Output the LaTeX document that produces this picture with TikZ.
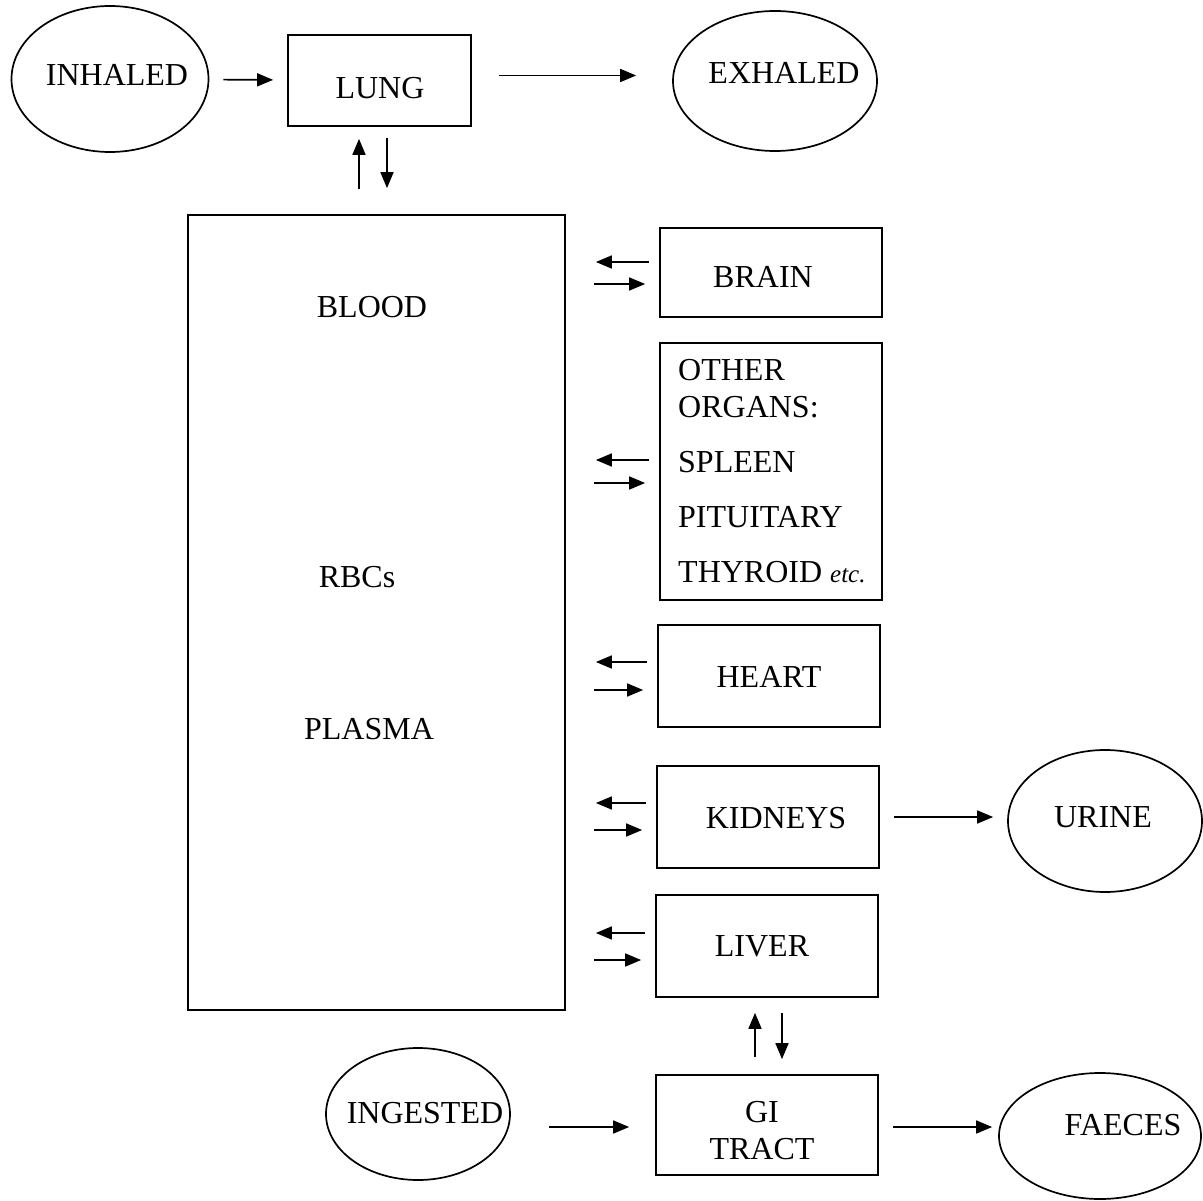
\documentclass[tikz,border=0pt]{standalone}
\usepackage{fontspec}
\setmainfont{Liberation Serif}
\usetikzlibrary{shapes.geometric,arrows.meta}
\begin{document}
\begin{tikzpicture}[x=1pt,y=-1pt,
  shp/.style={draw, line width=1.7pt, inner sep=0pt},
  boxn/.style={shp, rectangle},
  ell/.style={shp, ellipse},
  lbl/.style={inner sep=0pt, font=\fontsize{32}{37}\selectfont, align=center},
  arr/.style={line width=1.7pt, -{Triangle[length=16pt,width=13pt]}}]
\useasboundingbox (0,0) rectangle (1203,1201);
% shapes
\node[ell, minimum width=197pt, minimum height=146pt] (inh) at (110,79) {};
\node[ell, minimum width=204pt, minimum height=140pt] (exh) at (775,81) {};
\node[ell, minimum width=194pt, minimum height=142pt] (uri) at (1105,821) {};
\node[ell, minimum width=184pt, minimum height=132pt] (ing) at (418,1114) {};
\node[ell, minimum width=202pt, minimum height=126pt] (fae) at (1100,1136) {};
\node[boxn, minimum width=183pt, minimum height=91pt] (lung) at (379.5,80.5) {};
\node[boxn, minimum width=377pt, minimum height=795pt] (blood) at (376.5,612.5) {};
\node[boxn, minimum width=222pt, minimum height=89pt] (brain) at (771,272.5) {};
\node[boxn, minimum width=222pt, minimum height=257pt] (other) at (771,471.5) {};
\node[boxn, minimum width=222pt, minimum height=102pt] (heart) at (769,676) {};
\node[boxn, minimum width=222pt, minimum height=102pt] (kid) at (768,817) {};
\node[boxn, minimum width=222pt, minimum height=102pt] (liver) at (767,946) {};
\node[boxn, minimum width=222pt, minimum height=100pt] (gi) at (767,1125) {};
% labels
\node[lbl] (inhT) at (117,75) {INHALED};
\node[lbl] (lungT) at (380,88) {LUNG};
\node[lbl] (exhT) at (784,73) {EXHALED};
\node[lbl] (bloodT) at (372,307) {BLOOD};
\node[lbl] (rbcT) at (357,577) {RBCs};
\node[lbl] (plasT) at (369,729) {PLASMA};
\node[lbl] (brainT) at (763,277) {BRAIN};
\node[lbl, align=left, anchor=north west] (otherT) at (678,359.5)
  {OTHER\\ORGANS:\\[18pt]SPLEEN\\[18pt]PITUITARY\\[18pt]THYROID {\fontsize{25}{30}\selectfont\itshape etc.}};
\node[lbl] (heartT) at (769,677) {HEART};
\node[lbl] (kidT) at (776,818) {KIDNEYS};
\node[lbl] (uriT) at (1103,817) {URINE};
\node[lbl] (liverT) at (762,946) {LIVER};
\node[lbl] (giT) at (762,1131) {GI\\TRACT};
\node[lbl] (ingT) at (425,1113) {INGESTED};
\node[lbl] (faeT) at (1123,1125) {FAECES};
% top row
\draw[arr, shorten <=14pt, shorten >=14pt] (inh) -- (lung);
\draw[arr, shorten <=27pt, shorten >=36pt] ([yshift=5pt]lung.east) -- ([yshift=5pt]lung.east -| exh.west);
% lung <-> blood
\draw[arr, shorten <=25pt, shorten >=12pt] ([xshift=-20.5pt]blood.north -| lung.south) -- ([xshift=-20.5pt]lung.south);
\draw[arr, shorten <=11pt, shorten >=26pt] ([xshift=7.5pt]lung.south) -- ([xshift=7.5pt]lung.south |- blood.north);
% organs <-> blood
\foreach \o/\u/\d in {brain/10.5/11.5, other/11.5/11.5, heart/14/14, kid/14/13, liver/13/14}{
  \draw[arr, shorten <=10pt, shorten >=30pt] ([yshift=\u pt]\o.west) -- ([yshift=\u pt]\o.west -| blood.east);
  \draw[arr, shorten <=28pt, shorten >=14pt] ([yshift=-\d pt]\o.west -| blood.east) -- ([yshift=-\d pt]\o.west);
}
% kidneys -> urine
\draw[arr, shorten <=14pt, shorten >=14pt] (kid.east) -- (kid.east -| uri.west);
% liver <-> GI
\draw[arr, shorten <=17pt, shorten >=15pt] ([xshift=-12pt]gi.north) -- ([xshift=-12pt]gi.north |- liver.south);
\draw[arr, shorten <=15pt, shorten >=15pt] ([xshift=15pt]liver.south) -- ([xshift=15pt]liver.south |- gi.north);
% ingested -> GI -> faeces
\draw[arr, shorten <=38pt, shorten >=26pt] ([yshift=-2pt]gi.west -| ing.east) -- ([yshift=-2pt]gi.west);
\draw[arr, shorten <=14pt, shorten >=6pt] ([yshift=-2pt]gi.east) -- ([yshift=-2pt]gi.east -| fae.west);
\end{tikzpicture}
\end{document}
